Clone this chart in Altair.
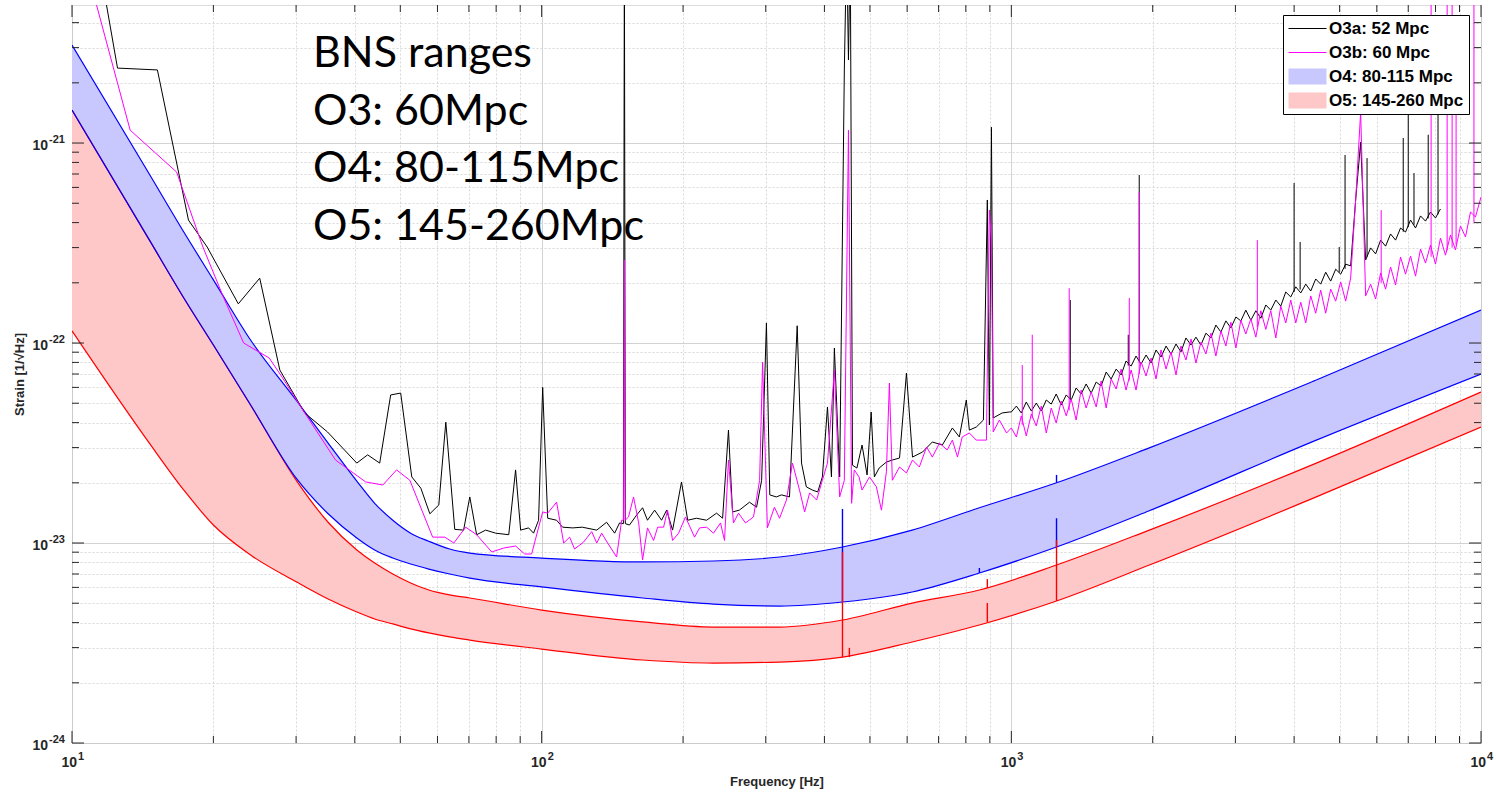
import altair as alt
import pandas as pd

# ---------------- data ----------------
# Projected sensitivity bands (frequency in Hz, strain in 1/sqrt(Hz))
band_f = [10, 14.65, 17.3, 20, 24, 30.1, 35.1, 40.4, 44.1, 48.2, 52.6, 57.5, 63.7, 70.3,
          100, 164, 232, 321, 437, 615, 855, 1248, 1967, 4460, 10000]
o4_hi = [3.09e-21, 6.92e-22, 3.59e-22, 2.07e-22, 1.035e-22, 5.13e-23, 3.16e-23, 2.04e-23, 1.58e-23, 1.30e-23,
         1.12e-23, 1.02e-23, 9.33e-24, 8.91e-24, 8.41e-24, 8.04e-24, 8.13e-24, 8.51e-24, 9.55e-24, 1.16e-23,
         1.50e-23, 2.00e-23, 2.99e-23, 6.53e-23, 1.46e-22]
o4_lo = [1.46e-21, 3.24e-22, 1.68e-22, 9.77e-23, 4.90e-23, 2.09e-23, 1.40e-23, 1.06e-23, 9.23e-24, 8.41e-24,
         7.85e-24, 7.41e-24, 7.00e-24, 6.68e-24, 6.03e-24, 5.31e-24, 4.95e-24, 4.84e-24, 5.07e-24, 5.69e-24,
         7.08e-24, 9.55e-24, 1.45e-23, 3.27e-23, 7.00e-23]
o5_hi = [1.46e-21, 3.24e-22, 1.68e-22, 9.77e-23, 4.90e-23, 2.04e-23, 1.27e-23, 9.23e-24, 7.94e-24, 7.00e-24,
         6.31e-24, 5.82e-24, 5.50e-24, 5.31e-24, 4.62e-24, 4.03e-24, 3.80e-24, 3.80e-24, 4.12e-24, 5.01e-24,
         5.82e-24, 7.76e-24, 1.16e-23, 2.51e-23, 5.69e-23]
o5_lo = [1.15e-22, 3.13e-23, 1.84e-23, 1.23e-23, 8.71e-24, 6.38e-24, 5.25e-24, 4.52e-24, 4.17e-24, 3.94e-24,
         3.72e-24, 3.55e-24, 3.39e-24, 3.27e-24, 2.95e-24, 2.60e-24, 2.51e-24, 2.54e-24, 2.69e-24, 3.20e-24,
         3.89e-24, 5.13e-24, 7.76e-24, 1.70e-23, 3.80e-23]

# narrow lines on the projected curves
spike_f = [437, 437, 452, 855, 889, 889, 1248, 1248, 1248]
spike_lo = [5.07e-24, 2.69e-24, 2.69e-24, 7.08e-24, 5.96e-24, 4.03e-24, 2.00e-23, 9.55e-24, 5.13e-24]
spike_hi = [1.48e-23, 9.02e-24, 2.99e-24, 7.5e-24, 6.6e-24, 5.01e-24, 2.19e-23, 1.33e-23, 1.035e-23]
spike_band = ["O4", "O5", "O5", "O4", "O5", "O5", "O4", "O4", "O5"]

# O3a measured spectrum
o3a_f = [11.3, 12.5, 15.2, 17.7, 19.4, 22.6, 25.1, 27.7, 31.3, 35.0,
         40.4, 42.6, 45.2, 47.7, 50.1, 52.9, 55.3, 57.8, 60.4, 62.5,
         65.3, 68.2, 70.3, 72.7, 76.0, 79.8, 85.1, 88.0, 90.2, 93.8,
         96.1, 98.5, 100.5, 103, 107.6, 110.8, 116.4, 122, 131, 137.5,
         143, 146.5, 149.3, 150, 150.7, 153.8, 159.3, 164, 168, 174,
         180, 184.5, 190, 198.5, 204.6, 213.6, 224.5, 235.7, 242.8, 249.9,
         254.9, 263.6, 277, 286.8, 294, 301, 306, 316, 324, 337,
         350, 357.5, 366, 377, 387, 396, 406, 414, 420, 431,
         441, 446, 450, 454, 459, 469, 481, 493, 503, 511,
         523, 542, 558, 578, 598, 616, 647, 679, 713, 749,
         775, 802, 814, 842, 872, 889, 898, 907, 915, 956,
         990,
         1000, 1025, 1050, 1076, 1103, 1130, 1158, 1187, 1216, 1246,
         1277, 1309, 1341, 1374, 1408, 1443, 1479, 1516, 1553, 1592,
         1631, 1672, 1713, 1755, 1799, 1843, 1889, 1936, 1984, 2033,
         2083, 2135, 2188, 2242, 2297, 2354, 2413, 2472, 2533, 2596,
         2661, 2726, 2794, 2863, 2934, 3007, 3081, 3157, 3236, 3316,
         3398, 3482, 3568, 3657, 3747, 3840, 3935, 4033, 4133, 4235,
         4340, 4447, 4557, 4670, 4786, 4905, 5026, 5151, 5278, 5409,
         5543, 5680, 5821, 5965, 6113, 6264, 6419, 6578, 6741, 6908,
         7079, 7255, 7434, 7618, 7807, 8000, 8198]
o3a_s = [9.2e-21, 2.37e-21, 2.32e-21, 4.12e-22, 3.02e-22, 1.57e-22, 2.11e-22, 7.33e-23, 4.47e-23, 3.59e-23,
         2.51e-23, 2.76e-23, 2.51e-23, 5.50e-23, 5.62e-23, 2.14e-23, 1.88e-23, 1.40e-23, 1.55e-23, 4.02e-23,
         1.17e-23, 1.16e-23, 1.70e-23, 1.10e-23, 1.16e-23, 1.12e-23, 1.10e-23, 2.32e-23, 1.16e-23, 1.19e-23,
         1.12e-23, 1.30e-23, 6.0e-23, 1.33e-23, 1.30e-23, 1.20e-23, 1.19e-23, 1.20e-23, 1.16e-23, 1.27e-23,
         1.12e-23, 1.26e-23, 1.25e-23, 1e-20, 1.25e-23, 1.23e-23, 1.38e-23, 1.50e-23, 1.30e-23, 1.46e-23,
         1.30e-23, 1.46e-23, 1.16e-23, 2.02e-23, 1.30e-23, 1.33e-23, 1.30e-23, 1.41e-23, 1.33e-23, 3.67e-23,
         1.43e-23, 1.46e-23, 1.60e-23, 1.51e-23, 2.06e-23, 1.26e-22, 1.74e-23, 1.70e-23, 1.74e-23, 1.70e-23,
         1.22e-22, 2.51e-23, 1.91e-23, 1.84e-23, 1.80e-23, 2.14e-23, 4.79e-23, 2.14e-23, 9.44e-23, 2.14e-23,
         2.32e-21, 1e-20, 2.60e-21, 1e-20, 2.45e-23, 2.37e-23, 3.09e-23, 2.19e-23, 4.52e-23, 2.14e-23,
         2.37e-23, 2.54e-23, 2.60e-23, 2.66e-23, 7.08e-23, 2.69e-23, 2.85e-23, 3.20e-23, 3.09e-23, 3.76e-23,
         3.39e-23, 5.19e-23, 3.67e-23, 3.80e-23, 4.12e-23, 5.19e-22, 3.89e-23, 1.20e-21, 4.22e-23, 4.47e-23,
         4.52e-23,
         4.52e-23, 4.84e-23, 4.47e-23, 5.07e-23, 4.57e-23, 5.01e-23, 4.57e-23, 5.19e-23, 4.95e-23, 5.56e-23,
         4.90e-23, 5.50e-23, 5.19e-23, 5.96e-23, 5.56e-23, 6.24e-23, 5.62e-23, 6.38e-23, 6.10e-23, 7.16e-23,
         6.61e-23, 7.41e-23, 6.92e-23, 8.13e-23, 7.67e-23, 8.61e-23, 7.85e-23, 8.71e-23, 7.94e-23, 9.23e-23,
         8.51e-23, 9.66e-23, 8.81e-23, 9.89e-23, 9.02e-23, 1.06e-22, 9.77e-23, 1.07e-22, 9.77e-23, 1.12e-22,
         1.06e-22, 1.23e-22, 1.135e-22, 1.29e-22, 1.19e-22, 1.35e-22, 1.29e-22, 1.46e-22, 1.30e-22, 1.45e-22,
         1.33e-22, 1.55e-22, 1.46e-22, 1.64e-22, 1.53e-22, 1.80e-22, 1.70e-22, 1.91e-22, 1.78e-22, 1.97e-22,
         1.82e-22, 2.09e-22, 1.97e-22, 2.26e-22, 2.04e-22, 2.34e-22, 2.21e-22, 2.48e-22, 2.43e-22, 5.19e-22,
         1.01e-21, 2.60e-22, 2.99e-22, 2.79e-22, 3.27e-22, 3.05e-22, 3.51e-22, 3.27e-22, 3.76e-22, 3.59e-22,
         4.12e-22, 3.76e-22, 4.32e-22, 4.07e-22, 4.52e-22, 4.22e-22, 4.68e-22]
# narrow O3a lines above 1 kHz
o3a_spike_f = [1335, 1774, 1872, 4000, 4120, 4990, 5135, 5720, 6830, 7000, 7200, 7720, 8100]
o3a_spike_lo = [5.2e-23, 7.7e-23, 8.0e-23, 1.8e-22, 1.85e-22, 2.25e-22, 2.35e-22, 2.7e-22, 3.6e-22, 3.8e-22, 3.9e-22, 4.2e-22, 4.4e-22]
o3a_spike_hi = [1.64e-22, 1.10e-22, 6.92e-22, 6.31e-22, 3.20e-22, 3.02e-22, 8.71e-22, 8.41e-22, 1.06e-21, 1.46e-21, 7.08e-22, 1.10e-21, 1.46e-21]

# O3b measured spectrum
o3b_f = [10.9, 13.3, 16.7, 19.0, 21.0, 23.2, 26.3, 28.0, 31.3, 36.4,
         42.2, 45.9, 49.1, 52.4, 58.6, 62.2, 65.0, 68.9, 72.7, 78.3,
         83.0, 88.0, 92.0, 95.2, 100.5, 103, 107.6, 111.4, 114.7, 117.5,
         122.8, 127.8, 131, 134.2, 138.2, 144.4, 148, 149.4, 150, 150.6,
         153.1, 156.9, 160.9, 164, 168, 173.1, 176.6, 181.8, 185.4, 190,
         195.7, 202.4, 211.6, 216.9, 224.5, 232.2, 240.3, 245.1, 249.9, 256.1,
         262.5, 271.6, 282.5, 291.1, 295.4, 302.4, 313, 321, 332, 342,
         354, 363, 372, 385, 396, 406, 420, 431, 441, 450,
         457, 463, 474, 481, 499, 516, 529, 542, 550, 558,
         578, 598, 616, 637, 660, 679, 703, 730, 749, 768,
         786, 814, 842, 885, 898, 907, 915, 943, 977,
         1000, 1025, 1050, 1076, 1103, 1130, 1158, 1187, 1216, 1246,
         1277, 1309, 1341, 1374, 1408, 1443, 1479, 1516, 1553, 1592,
         1631, 1672, 1713, 1755, 1799, 1843, 1889, 1936, 1984, 2033,
         2083, 2135, 2188, 2242, 2297, 2354, 2413, 2472, 2533, 2596,
         2661, 2726, 2794, 2863, 2934, 3007, 3081, 3157, 3236, 3316,
         3398, 3482, 3568, 3657, 3747, 3840, 3935, 4033, 4133, 4235,
         4340, 4447, 4557, 4670, 4786, 4905, 5026, 5151, 5278, 5409,
         5543, 5680, 5821, 5965, 6113, 6264, 6419, 6578, 6741, 6908,
         7079, 7255, 7434, 7618, 7807, 8000, 8198, 8402, 8610, 8824,
         9043, 9268, 9498, 9733, 10000]
o3b_s = [6.6e-21, 1.16e-21, 7.16e-22, 3.02e-22, 1.70e-22, 1.00e-22, 8.41e-23, 6.76e-23, 4.47e-23, 2.60e-23,
         2.02e-23, 1.95e-23, 2.32e-23, 2.06e-23, 1.07e-23, 1.07e-23, 1.00e-23, 1.20e-23, 1.10e-23, 9.02e-24,
         9.44e-24, 9.66e-24, 8.81e-24, 8.81e-24, 1.43e-23, 1.41e-23, 1.60e-23, 1.00e-23, 1.07e-23, 9.33e-24,
         1.01e-23, 1.14e-23, 1.00e-23, 1.12e-23, 1.00e-23, 8.51e-24, 1.30e-23, 1.30e-23, 2.60e-22, 1.30e-23,
         1.35e-23, 1.70e-23, 1.26e-23, 8.22e-24, 1.19e-23, 1.03e-23, 1.20e-23, 1.20e-23, 1.46e-23, 1.03e-23,
         1.12e-23, 1.35e-23, 1.07e-23, 1.19e-23, 1.20e-23, 1.12e-23, 1.26e-23, 1.03e-23, 2.60e-23, 1.26e-23,
         1.41e-23, 1.26e-23, 1.35e-23, 2.06e-23, 8.03e-23, 1.19e-23, 1.51e-23, 1.33e-23, 1.64e-23, 2.51e-23,
         1.84e-23, 1.43e-23, 1.78e-23, 1.64e-23, 2.06e-23, 2.51e-23, 7.33e-23, 1.70e-23, 2.06e-23, 1.16e-21,
         1.58e-23, 2.32e-23, 2.14e-23, 1.84e-23, 2.14e-23, 1.91e-23, 1.46e-23, 2.27e-23, 6.31e-23, 2.06e-23,
         2.40e-23, 2.24e-23, 2.60e-23, 2.40e-23, 3.02e-23, 2.69e-23, 3.16e-23, 2.92e-23, 3.27e-23, 2.69e-23,
         3.39e-23, 3.55e-23, 3.27e-23, 3.27e-23, 4.62e-22, 3.27e-22, 3.59e-23, 4.12e-23, 3.55e-23,
         3.76e-23, 3.39e-23, 4.32e-23, 3.43e-23, 4.42e-23, 3.85e-23, 4.84e-23, 3.55e-23, 4.73e-23, 3.98e-23,
         5.13e-23, 4.32e-23, 5.25e-23, 4.12e-23, 5.82e-23, 4.73e-23, 5.69e-23, 4.79e-23, 6.46e-23, 4.73e-23,
         6.61e-23, 5.89e-23, 7.41e-23, 5.82e-23, 7.33e-23, 5.82e-23, 8.04e-23, 6.84e-23, 8.41e-23, 6.61e-23,
         9.23e-23, 7.41e-23, 9.02e-23, 6.92e-23, 9.66e-23, 8.22e-23, 1.047e-22, 7.94e-23, 1.01e-22, 8.81e-23,
         1.12e-22, 8.61e-23, 1.15e-22, 9.66e-23, 1.27e-22, 9.44e-23, 1.30e-22, 1.11e-22, 1.32e-22, 1.07e-22,
         1.45e-22, 1.17e-22, 1.45e-22, 1.06e-22, 1.53e-22, 1.26e-22, 1.64e-22, 1.26e-22, 1.60e-22, 1.26e-22,
         1.72e-22, 1.41e-22, 1.84e-22, 1.41e-22, 1.86e-22, 1.62e-22, 2.02e-22, 1.62e-22, 2.11e-22, 5.19e-22,
         1.43e-21, 1.72e-22, 1.97e-22, 1.66e-22, 2.24e-22, 1.86e-22, 2.40e-22, 1.95e-22, 2.69e-22, 2.21e-22,
         2.72e-22, 2.16e-22, 2.95e-22, 2.51e-22, 3.09e-22, 2.48e-22, 3.35e-22, 2.75e-22, 3.47e-22, 2.92e-22,
         3.85e-22, 3.39e-22, 4.52e-22, 4.27e-22, 5.37e-22]
# narrow O3b lines above 1 kHz
o3b_spike_f = [1055, 1108, 1328, 1783, 1872, 3340, 6130, 7830, 8470, 8680, 8850, 9660]
o3b_spike_lo = [3.9e-23, 4.2e-23, 4.6e-23, 6.5e-23, 7.0e-23, 1.2e-22, 2.0e-22, 2.7e-22, 2.9e-22, 3.0e-22, 3.1e-22, 4.0e-22]
o3b_spike_hi = [7.76e-23, 1.10e-22, 1.88e-22, 1.68e-22, 5.69e-22, 3.27e-22, 4.62e-22, 1e-20, 1e-20, 1e-20, 1.46e-21, 1e-20]

legend_names = ["O3a: 52 Mpc", "O3b: 60 Mpc", "O4: 80-115 Mpc", "O5: 145-260 Mpc"]
legend_colors = ["#000000", "#ff00ff", "#c8c8ff", "#ffc8c8"]

annotation_lines = ["BNS ranges", "O3: 60Mpc", "O4: 80-115Mpc", "O5: 145-260Mpc"]

x_major = [10, 100, 1000, 10000]
x_major_sup = ["1", "2", "3", "4"]
x_minor = [20, 30, 40, 50, 60, 70, 80, 90,
           200, 300, 400, 500, 600, 700, 800, 900,
           2000, 3000, 4000, 5000, 6000, 7000, 8000, 9000]
y_major = [1e-24, 1e-23, 1e-22, 1e-21]
y_major_sup = ["-24", "-23", "-22", "-21"]
y_minor = [2e-24, 3e-24, 4e-24, 5e-24, 6e-24, 7e-24, 8e-24, 9e-24,
           2e-23, 3e-23, 4e-23, 5e-23, 6e-23, 7e-23, 8e-23, 9e-23,
           2e-22, 3e-22, 4e-22, 5e-22, 6e-22, 7e-22, 8e-22, 9e-22,
           2e-21, 3e-21, 4e-21]

# ---------------- tables ----------------
band = pd.DataFrame({"f": band_f, "o4_hi": o4_hi, "o4_lo": o4_lo, "o5_hi": o5_hi, "o5_lo": o5_lo})
spikes = pd.DataFrame({"f": spike_f, "lo": spike_lo, "hi": spike_hi, "band": spike_band})
o3a = pd.DataFrame({"f": o3a_f, "s": o3a_s})
o3b = pd.DataFrame({"f": o3b_f, "s": o3b_s})
o3a_sp = pd.DataFrame({"f": o3a_spike_f, "lo": o3a_spike_lo, "hi": o3a_spike_hi})
o3b_sp = pd.DataFrame({"f": o3b_spike_f, "lo": o3b_spike_lo, "hi": o3b_spike_hi})
leg = pd.DataFrame({"name": legend_names, "f": [5] * 4, "s": [1e-25] * 4})
note = pd.DataFrame({"t": [0]})
xlab = pd.DataFrame({"f": x_major, "sup": x_major_sup})
ylab = pd.DataFrame({"s": y_major, "sup": y_major_sup})
xmaj = pd.DataFrame({"f": x_major})
xmin = pd.DataFrame({"f": x_minor})
ymaj = pd.DataFrame({"s": y_major})
ymin = pd.DataFrame({"s": y_minor})

# ---------------- axes ----------------
LOG10 = "(log(datum.value)/LN10)"
MAJOR = f"abs({LOG10} - round({LOG10})) < 0.001"
grid_color = {"condition": {"test": MAJOR, "value": "#c4c4c4"}, "value": "#d8d8d8"}
grid_dash = {"condition": {"test": MAJOR, "value": [1, 0]}, "value": [2, 2]}

FONT = "Liberation Sans"
INK = "#262626"
x_axis = alt.Axis(values=x_major + x_minor, labels=False, grid=True,
                  gridColor=grid_color, gridDash=grid_dash, gridWidth=1,
                  ticks=False, domain=False,
                  title="Frequency [Hz]", titleFont=FONT, titleFontSize=13,
                  titleFontWeight="bold", titleColor=INK, titlePadding=32)
y_axis = alt.Axis(values=y_major + y_minor, labels=False, grid=True,
                  gridColor=grid_color, gridDash=grid_dash, gridWidth=1,
                  ticks=False, domain=False,
                  title="Strain [1/√Hz]", titleFont=FONT, titleFontSize=13,
                  titleFontWeight="bold", titleColor=INK, titlePadding=46)

xscale = alt.Scale(type="log", domain=[10, 10000], nice=False)
yscale = alt.Scale(type="log", domain=[1e-24, 4.9e-21], nice=False)

X = alt.X("f:Q", scale=xscale, axis=x_axis)


def Y(field):
    return alt.Y(f"{field}:Q", scale=yscale, axis=y_axis)


W, H = 1409, 738

# ---------------- layers ----------------
area_o5 = alt.Chart(band).mark_area(color="#ffc8c8", interpolate="monotone", clip=True).encode(
    x=X, y=Y("o5_hi"), y2="o5_lo")
area_o4 = alt.Chart(band).mark_area(color="#c8c8ff", interpolate="monotone", clip=True).encode(
    x=X, y=Y("o4_hi"), y2="o4_lo")


def edge(field, color):
    return alt.Chart(band).mark_line(color=color, strokeWidth=1.2, interpolate="monotone", clip=True).encode(
        x=X, y=Y(field))


edges = [edge("o5_hi", "#ff0000"), edge("o5_lo", "#ff0000"),
         edge("o4_lo", "#0000ff"), edge("o4_hi", "#0000ff")]

spike_layer = alt.Chart(spikes).mark_rule(strokeWidth=1.4, clip=True).encode(
    x=X, y=Y("lo"), y2="hi",
    stroke=alt.Stroke("band:N", scale=alt.Scale(domain=["O4", "O5"], range=["#0000ff", "#ff0000"]), legend=None))

line_a = alt.Chart(o3a).mark_line(color="#000000", strokeWidth=1, clip=True).encode(x=X, y=Y("s"))
rules_a = alt.Chart(o3a_sp).mark_rule(color="#000000", strokeWidth=1, clip=True).encode(x=X, y=Y("lo"), y2="hi")
line_b = alt.Chart(o3b).mark_line(color="#ff00ff", strokeWidth=1, clip=True).encode(x=X, y=Y("s"))
rules_b = alt.Chart(o3b_sp).mark_rule(color="#ff00ff", strokeWidth=1, clip=True).encode(x=X, y=Y("lo"), y2="hi")

# inward ticks on all four sides
tick_layers = []
for df, length in ((ymaj, 12), (ymin, 7)):
    tick_layers.append(alt.Chart(df).mark_rule(color=INK, strokeWidth=1).encode(
        y=Y("s"), x=alt.value(0), x2=alt.value(length)))
    tick_layers.append(alt.Chart(df).mark_rule(color=INK, strokeWidth=1).encode(
        y=Y("s"), x=alt.value(W - length), x2=alt.value(W)))
for df, length in ((xmaj, 12), (xmin, 7)):
    tick_layers.append(alt.Chart(df).mark_rule(color=INK, strokeWidth=1).encode(
        x=X, y=alt.value(H - length), y2=alt.value(H)))
    tick_layers.append(alt.Chart(df).mark_rule(color=INK, strokeWidth=1).encode(
        x=X, y=alt.value(0), y2=alt.value(length)))

# power-of-ten tick labels with raised exponents
xl_base = alt.Chart(xlab).mark_text(align="right", baseline="alphabetic", font=FONT, fontSize=14,
                                    fontWeight="bold", color=INK, dx=5).encode(
    x=X, y=alt.value(H + 24), text=alt.value("10"))
xl_sup = alt.Chart(xlab).mark_text(align="left", baseline="alphabetic", font=FONT, fontSize=11,
                                   fontWeight="bold", color=INK, dx=6).encode(
    x=X, y=alt.value(H + 17), text="sup:N")
yl_base = alt.Chart(ylab).mark_text(align="right", baseline="alphabetic", font=FONT, fontSize=14,
                                    fontWeight="bold", color=INK, dy=7).encode(
    y=Y("s"), x=alt.value(-24), text=alt.value("10"))
yl_sup = alt.Chart(ylab).mark_text(align="left", baseline="alphabetic", font=FONT, fontSize=11,
                                   fontWeight="bold", color=INK, dy=0).encode(
    y=Y("s"), x=alt.value(-23), text="sup:N")

line_path = "M-2.235,-0.07H2.235V0.07H-2.235Z"
rect_path = "M-2.235,-0.94H2.235V0.94H-2.235Z"
legend_def = alt.Legend(orient="none", legendX=1211, legendY=10, title=None,
                        fillColor="#ffffff", strokeColor="#000000", padding=5,
                        symbolSize=289, symbolOffset=11, labelOffset=13,
                        symbolStrokeWidth=0, symbolOpacity=1, rowPadding=6,
                        labelFont=FONT, labelFontSize=17, labelFontWeight="bold",
                        labelColor="#000000", labelLimit=400)
legend_layer = alt.Chart(leg).mark_point(filled=True, clip=True).encode(
    x=X, y=Y("s"),
    color=alt.Color("name:N", scale=alt.Scale(domain=legend_names, range=legend_colors), legend=legend_def),
    shape=alt.Shape("name:N", scale=alt.Scale(domain=legend_names,
                                              range=[line_path, line_path, rect_path, rect_path]),
                    legend=legend_def))

annotation = alt.Chart(note).mark_text(align="left", baseline="alphabetic", font="Lato",
                                       fontSize=43, lineHeight=57.5, color="#000000").encode(
    x=alt.value(241), y=alt.value(62), text=alt.value(annotation_lines))

chart = alt.layer(area_o5, area_o4, *edges, spike_layer, line_a, rules_a, line_b, rules_b,
                  *tick_layers, xl_base, xl_sup, yl_base, yl_sup, legend_layer, annotation).properties(
    width=W, height=H,
    padding={"left": 72, "top": 5, "right": 15, "bottom": 52},
    autosize=alt.AutoSizeParams(type="none"),
).configure_view(stroke="#3c3c3c", strokeWidth=1).configure(background="#ffffff")

chart.save("out.html", embed_options={"renderer": "svg", "actions": False})
